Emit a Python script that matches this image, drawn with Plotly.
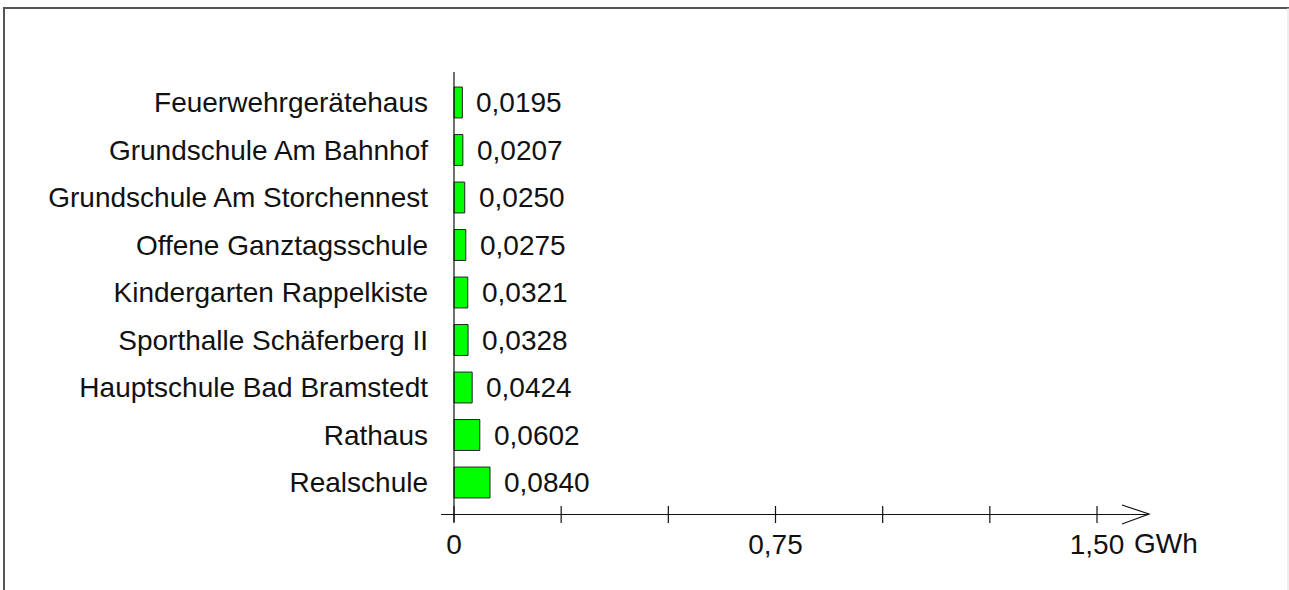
import plotly.graph_objects as go

categories = [
    "Feuerwehrgerätehaus",
    "Grundschule Am Bahnhof",
    "Grundschule Am Storchennest",
    "Offene Ganztagsschule",
    "Kindergarten Rappelkiste",
    "Sporthalle Schäferberg II",
    "Hauptschule Bad Bramstedt",
    "Rathaus",
    "Realschule",
]
values = [0.0195, 0.0207, 0.0250, 0.0275, 0.0321, 0.0328, 0.0424, 0.0602, 0.0840]
tick_vals = [0, 0.25, 0.5, 0.75, 1.0, 1.25, 1.5]
label_vals = [0, 0.75, 1.5]
label_text = ["0", "0,75", "1,50"]
unit = "GWh"

W, H = 1289, 590
L, R, T, B = 441, 1149, 72, 514  # plot area pixels


def px(x):
    return (x - L) / (R - L)


def py(y):
    return (B - y) / (B - T)


FONT = "Liberation Sans, Arial, sans-serif"
FS = 28

fig = go.Figure()
fig.add_trace(go.Bar(
    x=values,
    y=categories,
    orientation="h",
    width=0.65,
    marker=dict(color="#00ff00", line=dict(color="#222222", width=1)),
    hoverinfo="skip",
))

annotations = []
for c, v in zip(categories, values):
    annotations.append(dict(
        x=v, y=c, xref="x", yref="y", xanchor="left", yanchor="middle",
        xshift=12, text=f"{v:.4f}".replace(".", ","), showarrow=False,
        font=dict(family=FONT, size=FS, color="#111111"),
    ))
annotations.append(dict(
    x=label_vals[-1], y=py(543), xref="x", yref="paper", xanchor="left",
    yanchor="middle", xshift=35, text=unit, showarrow=False,
    font=dict(family=FONT, size=FS, color="#111111"),
))

shapes = []
# y axis line at x=0
shapes.append(dict(type="line", xref="x", yref="paper", x0=0, x1=0,
                   y0=py(522), y1=1.0, line=dict(color="#111111", width=1.2)))
# crossing ticks
for t in tick_vals:
    shapes.append(dict(type="line", xref="x", yref="paper", x0=t, x1=t,
                       y0=py(506), y1=py(523), line=dict(color="#111111", width=1.2)))
# open arrowhead
shapes.append(dict(type="path", xref="paper", yref="paper",
                   path=f"M {px(1122)} {py(505)} L {px(1149)} {py(514)} L {px(1122)} {py(524)}",
                   line=dict(color="#111111", width=1.2)))
# frame
shapes.append(dict(type="line", xref="paper", yref="paper", x0=px(3), x1=px(1289),
                   y0=py(8), y1=py(8), line=dict(color="#555555", width=2)))
shapes.append(dict(type="line", xref="paper", yref="paper", x0=px(4), x1=px(4),
                   y0=py(8), y1=py(600), line=dict(color="#555555", width=2)))
shapes.append(dict(type="line", xref="paper", yref="paper", x0=px(1288), x1=px(1288),
                   y0=py(8), y1=py(600), line=dict(color="#dddddd", width=1)))

fig.update_layout(
    width=W, height=H,
    margin=dict(l=L, r=W - R, t=T, b=H - B, pad=0),
    plot_bgcolor="white", paper_bgcolor="white",
    showlegend=False,
    font=dict(family=FONT, size=FS, color="#111111"),
    xaxis=dict(
        range=[(L - 454) / 428.67, (R - 454) / 428.67],
        tickvals=label_vals, ticktext=label_text,
        ticks="", showgrid=False, zeroline=False,
        showline=True, linecolor="#111111", linewidth=1.2,
        ticklabelstandoff=5,
        tickfont=dict(family=FONT, size=FS, color="#111111"),
    ),
    yaxis=dict(
        type="category",
        categoryarray=categories[::-1],
        range=[-(514 - 482.5) / 47.5, 8 + (102.5 - 72) / 47.5],
        ticks="", showgrid=False, zeroline=False, showline=False,
        ticklabelstandoff=12,
        tickfont=dict(family=FONT, size=FS, color="#111111"),
    ),
    annotations=annotations,
    shapes=shapes,
)

fig.write_html(
    "out.html",
    config={"displayModeBar": False},
    post_script="document.body.style.margin='0';document.body.style.overflow='hidden';",
)
